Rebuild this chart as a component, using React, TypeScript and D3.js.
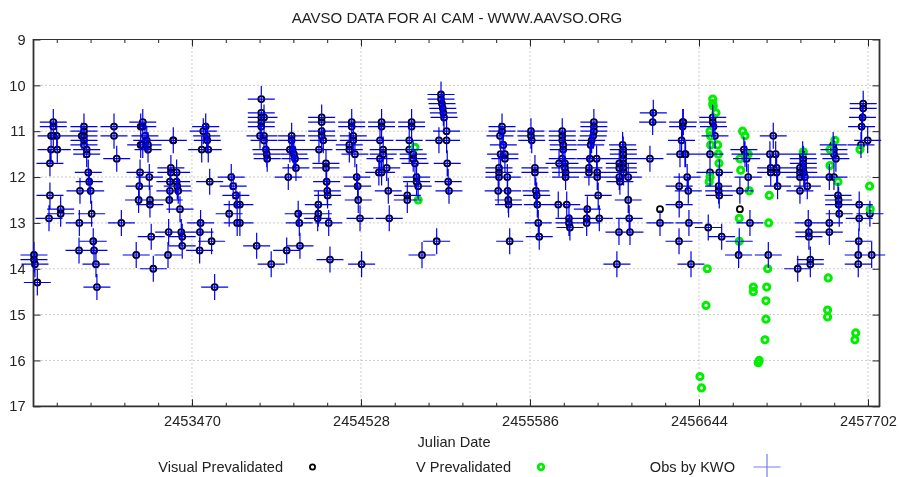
import { useEffect, useRef } from "react"
import * as d3 from "d3"

type Obs = [number, number]

const JD_BASE = 2450000

// visual estimates by KWO, one list per observing season: [JD - 2450000, magnitude]
const season2003: Obs[] = [[2481,13.7],[2481,13.8],[2487,13.9],[2502,14.3],[2575,12.9],[2581,12.4],[2581,11.7],[2588,11.4],[2588,11.1],[2602,10.8],[2602,10.9],[2602,11.1],[2623,11.1],[2627,11.4],[2648,12.7],[2648,12.8]]
const season2004: Obs[] = [[2763,13.6],[2765,13.0],[2769,12.3],[2780,11.1],[2794,10.9],[2794,11.0],[2794,11.1],[2794,11.2],[2794,11.3],[2811,11.4],[2811,11.5],[2821,11.9],[2827,12.1],[2836,12.3],[2842,12.8],[2852,13.4],[2857,13.6],[2869,13.9],[2875,14.4],[2982,10.9],[2982,11.1],[2999,11.6],[3028,13.0]]
const season2005: Obs[] = [[3121,13.7],[3136,12.5],[3140,12.2],[3145,11.9],[3149,10.9],[3149,11.3],[3162,10.8],[3162,10.9],[3162,11.3],[3176,11.1],[3187,11.2],[3195,11.3],[3195,11.4],[3203,12.0],[3207,12.5],[3207,12.6],[3215,13.3],[3228,14.0],[3320,13.7],[3324,13.2],[3328,12.5],[3332,12.1],[3332,12.3],[3338,11.8],[3338,11.9],[3353,11.2],[3353,11.2],[3374,11.9],[3374,12.1],[3378,12.2],[3384,12.3],[3395,12.7],[3403,13.2],[3409,13.3],[3409,13.5]]
const season2006: Obs[] = [[3518,13.6],[3520,13.2],[3524,13.0],[3531,11.4],[3541,11.0],[3556,10.9],[3562,11.1],[3566,11.2],[3572,11.4],[3581,12.1],[3593,13.4],[3612,14.4],[3703,12.8],[3716,12.0],[3728,12.2],[3745,12.4],[3753,12.6],[3753,13.0],[3770,12.6],[3770,13.0]]
const season2007: Obs[] = [[3875,13.5],[3896,11.1],[3904,10.3],[3904,10.6],[3904,10.7],[3904,10.8],[3904,10.9],[3921,10.7],[3921,11.1],[3921,11.2],[3933,11.4],[3938,11.5],[3941,11.6],[3966,13.9],[4063,13.6],[4073,12.0],[4083,11.4],[4094,11.1],[4094,11.2],[4100,11.4],[4108,11.5],[4115,11.6],[4121,11.8],[4135,12.8],[4142,13.0],[4146,13.5]]
const season2008: Obs[] = [[4257,12.9],[4261,12.6],[4261,12.8],[4265,11.4],[4282,10.7],[4282,10.8],[4282,11.0],[4282,11.1],[4292,11.2],[4309,11.7],[4309,11.8],[4313,12.1],[4317,12.3],[4319,12.4],[4326,13.0],[4334,13.8],[4455,11.3],[4455,11.4],[4470,10.8],[4470,10.9],[4480,11.1],[4480,11.2],[4490,11.5],[4501,12.0],[4507,12.2],[4511,12.5],[4522,12.9],[4532,13.9]]
const season2009: Obs[] = [[4640,11.9],[4647,11.2],[4647,11.6],[4657,10.8],[4657,10.9],[4657,11.9],[4667,11.4],[4667,11.5],[4689,11.8],[4699,12.3],[4705,12.9],[4818,12.4],[4818,12.5],[4830,11.2],[4830,11.4],[4845,10.8],[4845,10.9],[4855,11.5],[4855,11.6],[4866,11.7],[4876,12.0],[4876,12.1],[4886,12.2],[4910,13.7],[5002,13.4],[5016,11.2],[5029,10.2],[5029,10.3],[5035,10.4],[5040,10.5],[5044,10.6],[5048,10.7],[5064,11.0],[5064,11.2],[5068,11.7],[5074,12.1],[5079,12.3]]
const season2010: Obs[] = [[5387,12.3],[5392,11.8],[5392,11.9],[5392,12.0],[5398,11.1],[5402,11.5],[5411,10.9],[5411,11.0],[5419,11.3],[5429,11.5],[5429,11.6],[5444,12.0],[5446,12.3],[5450,12.5],[5452,12.6],[5459,13.4],[5592,11.0],[5592,11.1],[5597,11.2],[5617,11.8],[5617,11.9],[5623,12.3],[5628,12.4],[5632,12.6],[5638,13.0],[5644,13.3]]
const season2011: Obs[] = [[5763,12.6],[5768,11.7],[5788,11.0],[5788,11.1],[5788,11.2],[5788,11.6],[5794,11.3],[5794,11.4],[5805,11.7],[5805,11.8],[5809,11.9],[5809,12.0],[5816,12.6],[5830,12.9],[5830,13.0],[5836,13.1],[5941,12.9],[5941,13.0],[5945,12.7],[5955,11.8],[5955,11.9],[5961,11.6],[5966,11.3],[5972,11.2],[5982,11.1],[5986,10.8],[5986,10.9],[5986,11.0],[6003,11.6],[6007,11.9],[6007,12.0],[6013,12.4],[6020,12.9]]
const season2012: Obs[] = [[6130,13.9],[6143,13.2],[6145,11.7],[6145,11.8],[6145,12.0],[6149,12.1],[6166,11.3],[6170,11.4],[6170,11.5],[6170,11.6],[6170,11.7],[6170,11.8],[6172,11.9],[6201,12.0],[6201,12.5],[6207,12.9],[6212,13.2],[6337,11.6],[6354,10.8],[6358,10.6],[6400,13.0]]
const season2013: Obs[] = [[6519,13.4],[6520,12.2],[6520,12.6],[6525,11.5],[6535,11.2],[6542,10.8],[6542,10.9],[6546,10.8],[6556,11.5],[6560,11.5],[6570,12.0],[6577,12.3],[6581,13.0],[6594,13.9],[6702,13.1],[6713,11.5],[6713,11.9],[6730,10.7],[6730,10.8],[6735,10.9],[6744,11.1],[6767,12.2],[6767,12.3],[6771,11.9],[6771,12.4],[6786,13.3]]
const season2014: Obs[] = [[6892,13.7],[6896,13.4],[6900,12.3],[6925,11.4],[6932,11.5],[6942,11.6],[6952,12.0],[6963,13.0],[7078,13.7],[7088,11.5],[7093,11.8],[7093,11.9],[7109,11.1],[7124,11.5],[7130,11.8],[7130,11.9],[7136,12.2]]
const season2015: Obs[] = [[7262,14.0],[7276,11.8],[7276,11.9],[7276,12.0],[7276,12.3],[7293,11.5],[7297,11.6],[7297,11.7],[7297,11.8],[7300,11.9],[7307,12.0],[7322,12.2],[7328,13.0],[7332,13.2],[7332,13.3],[7341,13.8],[7341,13.9],[7460,12.0],[7460,13.0],[7460,13.2],[7484,11.3],[7489,11.4],[7489,11.5],[7489,12.0],[7501,11.6],[7514,12.4],[7518,12.5],[7518,12.6],[7522,12.8]]
const season2016: Obs[] = [[7641,13.7],[7641,13.9],[7644,13.4],[7647,12.6],[7647,12.9],[7658,11.3],[7662,10.9],[7668,10.7],[7672,10.4],[7672,10.5],[7700,11.2],[7714,12.8],[7725,13.7]]

// visual points with no KWO cross on them
const visualOnly: Obs[] = [[6400,12.7],[6900,12.7]]

const vPrevalidated: Obs[] = [[4866,11.35],[4886,12.5],[6650,16.35],[6660,16.6],[6688,14.8],[6696,14.0],[6708,12.1],[6713,11.0],[6713,12.0],[6716,11.1],[6717,11.3],[6730,10.3],[6730,10.4],[6733,10.45],[6750,10.6],[6761,11.3],[6765,11.5],[6769,11.7],[6896,12.9],[6896,13.4],[6900,11.6],[6905,11.85],[6917,11.0],[6932,11.1],[6952,11.5],[6959,12.3],[6984,14.4],[6984,14.5],[7015,16.05],[7021,16.0],[7057,15.55],[7063,14.7],[7063,15.1],[7068,14.4],[7074,14.0],[7080,13.0],[7084,12.4],[7297,11.45],[7449,14.9],[7449,15.05],[7453,14.2],[7464,11.4],[7464,11.75],[7495,11.2],[7514,12.1],[7620,15.55],[7625,15.4],[7652,11.4],[7712,12.2],[7716,12.7]]

const yTicks = [9, 10, 11, 12, 13, 14, 15, 16, 17]
const xTicks = [2453470, 2454528, 2455586, 2456644, 2457702]
const xMinorStep = 211.6

const kwoObs = [...season2003, ...season2004, ...season2005, ...season2006, ...season2007, ...season2008, ...season2009, ...season2010, ...season2011, ...season2012, ...season2013, ...season2014, ...season2015, ...season2016]

export default function App() {
  const ref = useRef<SVGSVGElement>(null)

  useEffect(() => {
    const root = d3.select(ref.current)
    root.selectAll("g").remove()
    // the reference is a scaled-down bitmap, so everything gets a touch of softening
    const svg = root.append("g").attr("filter", "url(#soften)")

    const x = d3.scaleLinear().domain([2452478, 2457774]).range([33.5, 879.5])
    const y = d3.scaleLinear().domain([9, 17]).range([39.5, 406.3])
    const minor = d3.range(-5, 32).map(k => 2453470 + k * xMinorStep).filter(v => v > 2452478 && v < 2457774)
    const font = "'Liberation Sans', Arial, sans-serif"
    const fontSize = 14.6

    // grid
    const grid = svg.append("g").attr("stroke", "#999").attr("stroke-width", 1).attr("stroke-dasharray", "1 3")
    yTicks.slice(1, -1).forEach(t => {
      grid.append("line").attr("x1", 33.5).attr("x2", 879.5).attr("y1", y(t)).attr("y2", y(t))
    })
    xTicks.forEach(t => {
      grid.append("line").attr("x1", x(t)).attr("x2", x(t)).attr("y1", 39.5).attr("y2", 406.3)
    })

    // axes
    const styleAxis = (g: any) => {
      g.select(".domain").remove()
      g.selectAll("line").attr("stroke", "#222").attr("stroke-width", 1)
      g.selectAll("text").attr("font-family", font).attr("font-size", fontSize).attr("fill", "#222")
    }
    svg.append("g").attr("transform", "translate(0,406.3)")
      .call(d3.axisBottom(x).tickValues(xTicks).tickFormat(d3.format("d")).tickSizeInner(-7).tickPadding(9)).call(styleAxis)
    svg.append("g").attr("transform", "translate(0,406.3)")
      .call(d3.axisBottom(x).tickValues(minor).tickFormat(() => "").tickSizeInner(-3.5)).call(styleAxis)
    svg.append("g").attr("transform", "translate(0,39.5)")
      .call(d3.axisTop(x).tickValues(xTicks).tickFormat(() => "").tickSizeInner(-7)).call(styleAxis)
    svg.append("g").attr("transform", "translate(0,39.5)")
      .call(d3.axisTop(x).tickValues(minor).tickFormat(() => "").tickSizeInner(-3.5)).call(styleAxis)
    svg.append("g").attr("transform", "translate(33.5,0)")
      .call(d3.axisLeft(y).tickValues(yTicks).tickFormat(d3.format("d")).tickSizeInner(-7).tickPadding(8)).call(styleAxis)
    svg.append("g").attr("transform", "translate(879.5,0)")
      .call(d3.axisRight(y).tickValues(yTicks).tickFormat(() => "").tickSizeInner(-7)).call(styleAxis)

    // frame
    const frame = svg.append("g").attr("stroke", "#333").attr("fill", "none")
    frame.append("line").attr("x1", 33).attr("x2", 880).attr("y1", 39.5).attr("y2", 39.5).attr("stroke-width", 1)
    frame.append("line").attr("x1", 33.5).attr("x2", 33.5).attr("y1", 39).attr("y2", 407).attr("stroke-width", 1.8)
    frame.append("line").attr("x1", 33).attr("x2", 880).attr("y1", 406.3).attr("y2", 406.3).attr("stroke-width", 1.8)
    frame.append("line").attr("x1", 879.5).attr("x2", 879.5).attr("y1", 39).attr("y2", 407).attr("stroke-width", 1.8)

    const rings = (data: Obs[], color: string, width: number, r: number) => {
      svg.append("g").attr("fill", "none").attr("stroke", color).attr("stroke-width", width)
        .selectAll("circle").data(data).join("circle")
        .attr("cx", d => x(d[0] + JD_BASE)).attr("cy", d => y(d[1])).attr("r", r)
    }
    rings([...kwoObs, ...visualOnly], "#000", 1.8, 3)
    rings(vPrevalidated, "#00ee00", 3, 3.1)

    // crosses, drawn by d3.path so each observation is one subpath
    const crossPath = (px: number, py: number) => {
      const p = d3.path()
      p.moveTo(px - 13.5, py); p.lineTo(px + 13.5, py)
      p.moveTo(px, py - 13); p.lineTo(px, py + 13)
      return p.toString()
    }
    svg.append("path")
      .attr("d", kwoObs.map(d => crossPath(x(d[0] + JD_BASE), y(d[1]))).join(""))
      .attr("fill", "none").attr("stroke", "#0000f0").attr("stroke-width", 1.2)

    // title and labels
    const label = (t: string, lx: number, ly: number, anchor = "middle", size = fontSize) =>
      svg.append("text").text(t).attr("x", lx).attr("y", ly).attr("text-anchor", anchor)
        .attr("font-family", font).attr("font-size", size).attr("fill", "#222")
    label("AAVSO DATA FOR AI CAM - WWW.AAVSO.ORG", 457, 23, "middle", 15)
    label("Julian Date", 454, 447)
    label("Visual Prevalidated", 283, 472, "end")
    label("V Prevalidated", 511, 472, "end")
    label("Obs by KWO", 735, 472, "end")

    // legend samples
    svg.append("circle").attr("cx", 312.5).attr("cy", 467).attr("r", 2.6).attr("fill", "none").attr("stroke", "#000").attr("stroke-width", 1.8)
    svg.append("circle").attr("cx", 541).attr("cy", 467).attr("r", 2.8).attr("fill", "none").attr("stroke", "#00ee00").attr("stroke-width", 2.8)
    svg.append("path").attr("d", crossPath(767, 467)).attr("fill", "none").attr("stroke", "#7a7aee").attr("stroke-width", 1.2)
  }, [])

  return (
    <div style={{ position: "absolute", left: 0, top: 0 }}>
      <svg ref={ref} width={899} height={477} style={{ display: "block", background: "#fff" }}>
        <defs>
          <filter id="soften" x="0" y="0" width="899" height="477" filterUnits="userSpaceOnUse" primitiveUnits="userSpaceOnUse">
            <feGaussianBlur stdDeviation="0.4" />
          </filter>
        </defs>
      </svg>
    </div>
  )
}
